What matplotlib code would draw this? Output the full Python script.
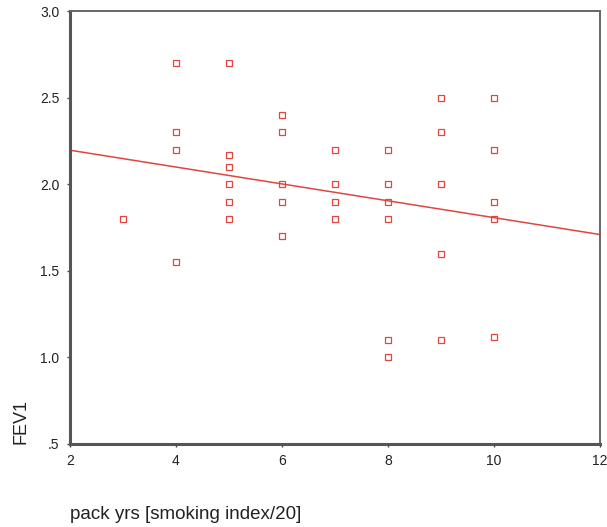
import matplotlib
matplotlib.use("Agg")
import matplotlib.pyplot as plt
import numpy as np

# Data
pack_yrs = [3,
            4, 4, 4, 4,
            5, 5, 5, 5, 5, 5,
            6, 6, 6, 6, 6,
            7, 7, 7, 7,
            8, 8, 8, 8, 8, 8,
            9, 9, 9, 9, 9,
            10, 10, 10, 10, 10]
fev1 = [1.80,
        2.70, 2.30, 2.20, 1.55,
        2.70, 2.17, 2.10, 2.00, 1.90, 1.80,
        2.40, 2.30, 2.00, 1.90, 1.70,
        2.20, 2.00, 1.90, 1.80,
        2.20, 2.00, 1.90, 1.80, 1.10, 1.00,
        2.50, 2.30, 2.00, 1.60, 1.10,
        2.50, 2.20, 1.90, 1.80, 1.12]
fit_intercept = 2.294
fit_slope = -0.0487

x_ticks = [2, 4, 6, 8, 10, 12]
x_ticklabels = ["2", "4", "6", "8", "10", "12"]
y_ticks = [0.5, 1.0, 1.5, 2.0, 2.5, 3.0]
y_ticklabels = [".5", "1.0", "1.5", "2.0", "2.5", "3.0"]

plt.rcParams['font.family'] = ['Liberation Sans', 'DejaVu Sans']

fig = plt.figure(figsize=(6.07, 5.27), dpi=100)
ax = fig.add_axes([0.1153, 0.1575, 0.8732, 0.8215])

red = '#e0453f'
ax.plot(pack_yrs, fev1, linestyle='none', marker='s', markersize=4.2,
        markerfacecolor='none', markeredgecolor=red, markeredgewidth=0.9)

xl = np.array([2, 12])
ax.plot(xl, fit_intercept + fit_slope * xl, color=red, linewidth=1.1)

ax.set_xlim(2, 12)
ax.set_ylim(0.5, 3.0)
ax.set_xticks(x_ticks)
ax.set_xticklabels(x_ticklabels)
ax.set_yticks(y_ticks)
ax.set_yticklabels(y_ticklabels)

for s in ['left', 'bottom']:
    ax.spines[s].set_linewidth(2.2)
    ax.spines[s].set_color('#555555')
for s in ['top', 'right']:
    ax.spines[s].set_linewidth(1.4)
    ax.spines[s].set_color('#666666')

ax.tick_params(axis='both', direction='out', length=2.5, width=1, color='#444444',
               labelsize=10, labelcolor='#222222', pad=5)

ax.set_ylabel("FEV1", fontsize=13, color='#222222', loc='bottom', labelpad=8)
ax.set_xlabel("pack yrs [smoking index/20]", fontsize=13.5, color='#222222',
              loc='left', labelpad=27)

fig.savefig("out.png", dpi=100)
